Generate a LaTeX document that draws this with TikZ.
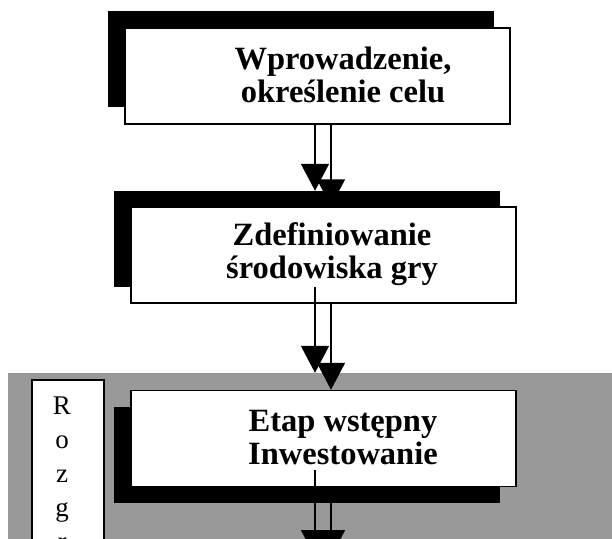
\documentclass[tikz,border=0pt]{standalone}
\usepackage{fontspec}
\setmainfont{Liberation Serif}
\usetikzlibrary{arrows.meta}

\tikzstyle{box}=[shape=rectangle,draw=black,fill=white,line width=1.4pt,minimum width=385pt,minimum height=96pt,inner sep=0pt]
\tikzstyle{shade}=[shape=rectangle,fill=black,minimum width=386pt,minimum height=96pt,inner sep=0pt]
\tikzstyle{boxtext}=[align=center,font=\fontsize{32.5}{33}\selectfont\bfseries,inner sep=0pt]
\tikzstyle{flow}=[-{Triangle[length=27pt,width=28pt]},line width=1.6pt]
\tikzstyle{zone}=[shape=rectangle,fill=black!40,minimum width=604pt,minimum height=200pt,inner sep=0pt]

\begin{document}
\begin{tikzpicture}[x=1pt,y=-1pt]
\useasboundingbox (0,0) rectangle (612,538);
\clip (0,0) rectangle (612,538);
% grey part
\node[zone] (zone) at (310,473) {};
\node[shape=rectangle,draw=black,fill=white,line width=1.4pt,minimum width=72pt,minimum height=200pt,inner sep=0pt] (side) at (68,480) {};
\node[align=center,font=\fontsize{27}{34}\selectfont,inner sep=0pt,anchor=north] (sidetext) at (62,397) {R\\o\\z\\g\\r};
% 1st box
\node[shade] (sh1) at (301,58.5) {};
\node[box] (b1) at (317.5,76) {};
\node[boxtext] (t1) at (343,75) {Wprowadzenie,\\okre\'slenie celu};
% 2nd box
\node[shade] (sh2) at (307,239) {};
\node[box] (b2) at (323.5,255) {};
\node[boxtext] (t2) at (332,254) {Zdefiniowanie\\\'srodowiska gry};
% 3rd box
\node[shade] (sh3) at (307,454.5) {};
\node[box] (b3) at (323.5,438.5) {};
\node[boxtext] (t3) at (343,438) {Etap wstępny\\Inwestowanie};
% arrows
\coordinate (la) at (315,0);
\coordinate (ra) at (331,0);
\coordinate (s3) at (315,470);
\coordinate (e3) at (315,557);
\draw[flow] (b1.south -| la) -- (sh2.north -| la);
\draw[flow] (b1.south -| ra) -- (b2.north -| ra);
\draw[flow] (sh2.south -| la) -- (zone.north -| la);
\draw[flow] (b2.south -| ra) -- (b3.north -| ra);
\draw[flow] (s3) -- (e3);
\draw[flow] (sh3.south -| ra) -- (e3 -| ra);
\end{tikzpicture}
\end{document}
